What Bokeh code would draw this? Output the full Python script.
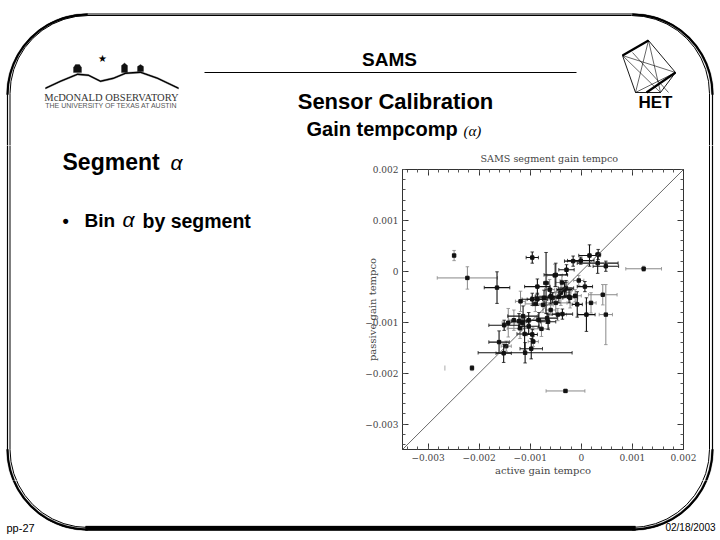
import math
from bokeh.plotting import figure
from bokeh.embed import file_html
from bokeh.resources import INLINE
from bokeh.layouts import column, row
from bokeh.core.properties import value
from bokeh.models import ColumnDataSource, Whisker, TeeHead, Slope, LinearAxis, FixedTicker, Range1d

# values in units of 1e-3: x, y, xerr, yerr
black_x = [-1.65,-0.96,0.16,0.33,0.32,0.48,-0.16,-0.01,-0.29,-0.5,0.07,0.1,-0.08,-0.37,-0.67,-0.65,-0.83,-1.03,-1.14,-1.22,-1.51,-1.11,-0.96,-0.98,-1.1,-1.52,-1.61,-0.96,-0.86,-0.73,-0.6,-0.56,-0.44,-0.3,-0.86,-0.69,-1.03,-0.33,-0.24]
black_y = [-0.32,0.27,0.31,0.33,0.16,0.1,0.2,0.21,0.03,-0.07,-0.3,-0.85,-0.65,-0.84,-0.92,-0.99,-0.96,-1.08,-0.88,-0.98,-1.06,-1.23,-1.24,-1.52,-1.6,-1.61,-1.39,-0.55,-0.55,-0.52,-0.49,-0.52,-0.5,-0.33,-0.3,-0.23,-0.96,-0.36,-0.5]
black_xerr = [0.25,0.12,0.21,0.05,0.4,0.25,0.17,0.26,0.15,0.23,0.15,0.17,0.1,0.2,0.2,0.15,0.2,0.2,0.3,0.15,0.3,0.15,0.1,0.22,0.92,0.15,0.2,0.2,0.2,0.25,0.3,0.2,0.2,0.15,0.25,0.05,0.15,0.15,0.1]
black_yerr = [0.31,0.11,0.21,0.1,0.2,0.1,0.1,0.07,0.1,0.23,0.1,0.33,0.25,0.1,0.1,0.15,0.15,0.15,0.2,0.15,0.1,0.32,0.1,0.2,0.2,0.18,0.22,0.12,0.12,0.15,0.15,0.1,0.12,0.15,0.15,0.6,0.15,0.15,0.12]

gray_x = [-2.49,-2.23,-2.14,-0.31,1.22,0.48,0.42,-0.05,0.19,-0.46,-0.6,-0.78,-1.16,-1.32,-1.43,-0.94,-1.47,-1.19,-0.4,-0.5,-0.75,-0.62,-0.52,-0.38,-0.22,-0.12,-0.9,-1.2]
gray_y = [0.31,-0.13,-1.9,-2.35,0.05,-0.85,-0.46,-0.18,-0.62,-0.85,-0.76,-1.13,-1.01,-0.96,-1.01,-1.38,-1.47,-0.59,-0.42,-0.62,-0.66,-0.36,-0.08,-0.22,-0.52,-0.48,-0.64,-1.12]
gray_xerr = [0.03,0.59,0.03,0.38,0.35,0.13,0.28,0.1,0.1,0.17,0.1,0.15,0.15,0.1,0.12,0.1,0.1,0.1,0.2,0.22,0.2,0.1,0.15,0.12,0.15,0.12,0.2,0.25]
gray_yerr = [0.1,0.22,0.05,0.03,0.05,0.59,0.2,0.1,0.2,0.12,0.1,0.15,0.1,0.2,0.28,0.1,0.1,0.2,0.25,0.22,0.15,0.2,0.22,0.15,0.2,0.12,0.15,0.2]

faint_x = [-2.67]
faint_y = [-1.9]
faint_yerr = [0.05]

x_ticks = [-0.003,-0.002,-0.001,0,0.001,0.002]
x_labels = ["\u22120.003","\u22120.002","\u22120.001","0","0.001","0.002"]
minor_ticks = [i*0.0002 for i in range(-17,11)]

# page layout: strips of slide artwork around the plot
PW,PH = 718,538
PX0,PX1,PY0,PY1 = 355,700,145,480
FL,FR,FT,FB = 402,683,168,449

p = figure(width=PX1-PX0,height=PY1-PY0,output_backend="svg",toolbar_location=None,
           x_range=(-0.0035,0.002),y_range=(-0.0035,0.002),
           min_border_left=FL-PX0,min_border_right=PX1-FR,min_border_top=FT-PY0,min_border_bottom=PY1-FB,
           x_axis_label="active gain tempco",y_axis_label="passive gain tempco",
           title="SAMS segment gain tempco")
p.title.align="left";p.title.offset=78;p.title.text_font="DejaVu Serif";p.title.text_font_size="9.6px"
p.title.text_font_style="normal";p.title.text_color="#444444";p.title.standoff=11
p.grid.visible=False
p.outline_line_color="#333333"
p.outline_line_width=0.8
INK="#444444"
def style(ax,labels=True):
    ax.major_tick_in=6;ax.major_tick_out=0;ax.minor_tick_in=3;ax.minor_tick_out=0
    ax.major_tick_line_color="#333333";ax.minor_tick_line_color="#555555"
    ax.axis_line_color="#333333"
    ax.ticker=FixedTicker(ticks=x_ticks,minor_ticks=minor_ticks)
    ax.major_label_text_font="DejaVu Serif";ax.major_label_text_font_size="9px";ax.major_label_text_color=INK
    ax.axis_label_text_font="DejaVu Serif";ax.axis_label_text_font_size="10px";ax.axis_label_text_color=INK
    ax.axis_label_text_font_style="normal"
    ax.major_label_standoff=4
    if labels:
        ax.major_label_overrides=dict(zip(x_ticks,x_labels))
style(p.xaxis[0]);style(p.yaxis[0])
p.xaxis[0].axis_label_standoff=1
p.yaxis[0].axis_label_standoff=-16
p.yaxis[0].major_label_orientation="horizontal"
top=LinearAxis();right=LinearAxis()
style(top,False);style(right,False)
top.major_label_overrides={t:"" for t in x_ticks};right.major_label_overrides={t:"" for t in x_ticks}
p.add_layout(top,"above");p.add_layout(right,"right")
p.add_layout(Slope(gradient=1,y_intercept=0,line_color="#444444",line_width=0.8))

def scaled(v): return [a*1e-3 for a in v]
def series(xs,ys,xe,ye,color,lw):
    xs,ys,xe,ye=map(scaled,(xs,ys,xe,ye))
    src=ColumnDataSource(dict(x=xs,y=ys,
        xl=[a-b for a,b in zip(xs,xe)],xu=[a+b for a,b in zip(xs,xe)],
        yl=[a-b for a,b in zip(ys,ye)],yu=[a+b for a,b in zip(ys,ye)]))
    for base,lo,up,dim in (("y","xl","xu","width"),("x","yl","yu","height")):
        p.add_layout(Whisker(source=src,base=base,lower=lo,upper=up,dimension=dim,line_color=color,line_width=lw,
            lower_head=TeeHead(size=3.5,line_color=color,line_width=0.8),upper_head=TeeHead(size=3.5,line_color=color,line_width=0.8)))
    p.scatter("x","y",source=src,marker="square",size=3.4,color="#111111")
series(gray_x,gray_y,gray_xerr,gray_yerr,"#888888",1.0)
series(black_x,black_y,black_xerr,black_yerr,"#111111",1.1)
p.segment(scaled(faint_x),[(a-b)*1e-3 for a,b in zip(faint_y,faint_yerr)],scaled(faint_x),[(a+b)*1e-3 for a,b in zip(faint_y,faint_yerr)],line_color="#aaaaaa",line_width=1)

def strip(x0,x1,y0,y1):
    f=figure(width=x1-x0,height=y1-y0,output_backend="svg",toolbar_location=None,
             x_range=Range1d(x0,x1),y_range=Range1d(y1,y0),x_axis_location=None,y_axis_location=None,min_border=0)
    f.grid.visible=False;f.outline_line_color=None
    return (f,(x0,x1,y0,y1))
strips=[strip(0,PW,0,PY0),strip(0,PX0,PY0,PY1),strip(PX1,PW,PY0,PY1),strip(0,PW,PY1,PH)]

def hit(box,pts):
    x0,x1,y0,y1=box
    xs=[a for a,b in pts];ys=[b for a,b in pts]
    return max(xs)>=x0-3 and min(xs)<=x1+3 and max(ys)>=y0-3 and min(ys)<=y1+3
def line(pts,lw=1.0,color="#000000"):
    for f,box in strips:
        if hit(box,pts):
            f.line([a for a,b in pts],[b for a,b in pts],line_color=color,line_width=lw)
def fill(pts,color="#000000"):
    for f,box in strips:
        if hit(box,pts):
            f.patch([a for a,b in pts],[b for a,b in pts],fill_color=color,line_color=color,line_width=0.3)
def label(x,y,t,size,font="Liberation Sans",style="normal",color="#000000",align="left"):
    for f,(x0,x1,y0,y1) in strips:
        if x0<=x<=x1 and y0<=y<=y1:
            f.text([x],[y],text=[t],text_font=value(font),text_font_size=f"{size}px",text_font_style=style,
                   text_color=color,text_align=align,text_baseline="middle")
            break

def rr(l,t,r,b,rad):
    pts=[]
    for cx,cy,a0 in ((r-rad,t+rad,-90),(r-rad,b-rad,0),(l+rad,b-rad,90),(l+rad,t+rad,180)):
        pts+=[(cx+rad*math.cos(math.radians(a0+i*9)),cy+rad*math.sin(math.radians(a0+i*9))) for i in range(11)]
    return pts+pts[:1]
def arcband(cx,cy,r1,r2,a0,a1):
    n=12
    o=[(cx+r1*math.cos(math.radians(a0+(a1-a0)*i/n)),cy+r1*math.sin(math.radians(a0+(a1-a0)*i/n))) for i in range(n+1)]
    q=[(cx+r2*math.cos(math.radians(a0+(a1-a0)*i/n)),cy+r2*math.sin(math.radians(a0+(a1-a0)*i/n))) for i in range(n+1)]
    return o+q[::-1]
line(rr(7,13.5,712,529.5,80),lw=1.2)
line(rr(9.5,15,709,527,78),lw=1.0)
fill([(85,525.5),(635,525.5),(635,530),(85,530)])
for cx,cy,a0,a1 in ((87,94,180,270),(632,94,270,360),(87,449,90,180),(632,449,0,90)):
    fill(arcband(cx,cy,79,81,a0,a1))

label(389,59,"SAMS",19,style="bold",align="center")
line([(204,72),(576,72)],lw=1)
label(395,101,"Sensor Calibration",22,style="bold",align="center")
label(306,128,"Gain tempcomp",20,style="bold")
label(463,130,"(\u03b1)",15,font="Liberation Serif",style="italic")
label(62,161,"Segment",23,style="bold")
label(170,162,"\u03b1",21,style="italic")
label(62,220,"\u2022",18,style="bold")
label(84,220,"Bin",19,style="bold")
label(122,219,"\u03b1",21,style="italic")
label(142,220,"by segment",19.5,style="bold")
label(6,527,"pp-27",11)
label(715,527,"02/18/2003",10,align="right")

# logo marks
hill=[(45,87),(60,80),(77,73),(88,74),(100,80),(113,77),(125,72),(140,71),(157,77),(178,87)]
fill(hill+[(x,y+1.5) for x,y in hill[::-1]])
fill([(73,72),(73,67),(75,64),(79,64),(81,67),(81,72)],"#111111")
fill([(121,72),(121,65),(124,62.5),(127,65),(127,72)],"#111111")
fill([(137,71),(137,66),(140,64),(143,66),(143,71)],"#111111")
label(102,58,"\u2605",10,font="DejaVu Sans",align="center")
label(111,97,"McDONALD OBSERVATORY",10.5,font="Liberation Serif",color="#333333",align="center")
label(111,105,"THE UNIVERSITY OF TEXAS AT AUSTIN",7,font="Liberation Sans",color="#555555",align="center")
pent=[(622,55),(648,40),(675,72),(660,92),(635,92),(622,55)]
line(pent,lw=0.9)
for a,b in (((622,55),(648,40)),((646,92),(675,72))):
    line([a,b],lw=2.2)
for a,b in (((622,55),(660,92)),((622,55),(675,72)),((648,40),(660,92)),((648,40),(635,92)),((635,92),(675,72)),((632,52),(668,92))):
    line([a,b],lw=0.6)
label(655,102,"HET",17,style="bold",align="center")

page=column(strips[0][0],row(column(strips[1][0],spacing=0),column(p,spacing=0),column(strips[2][0],spacing=0),spacing=0),strips[3][0],spacing=0)
open("out.html","w").write(file_html(page,INLINE))
